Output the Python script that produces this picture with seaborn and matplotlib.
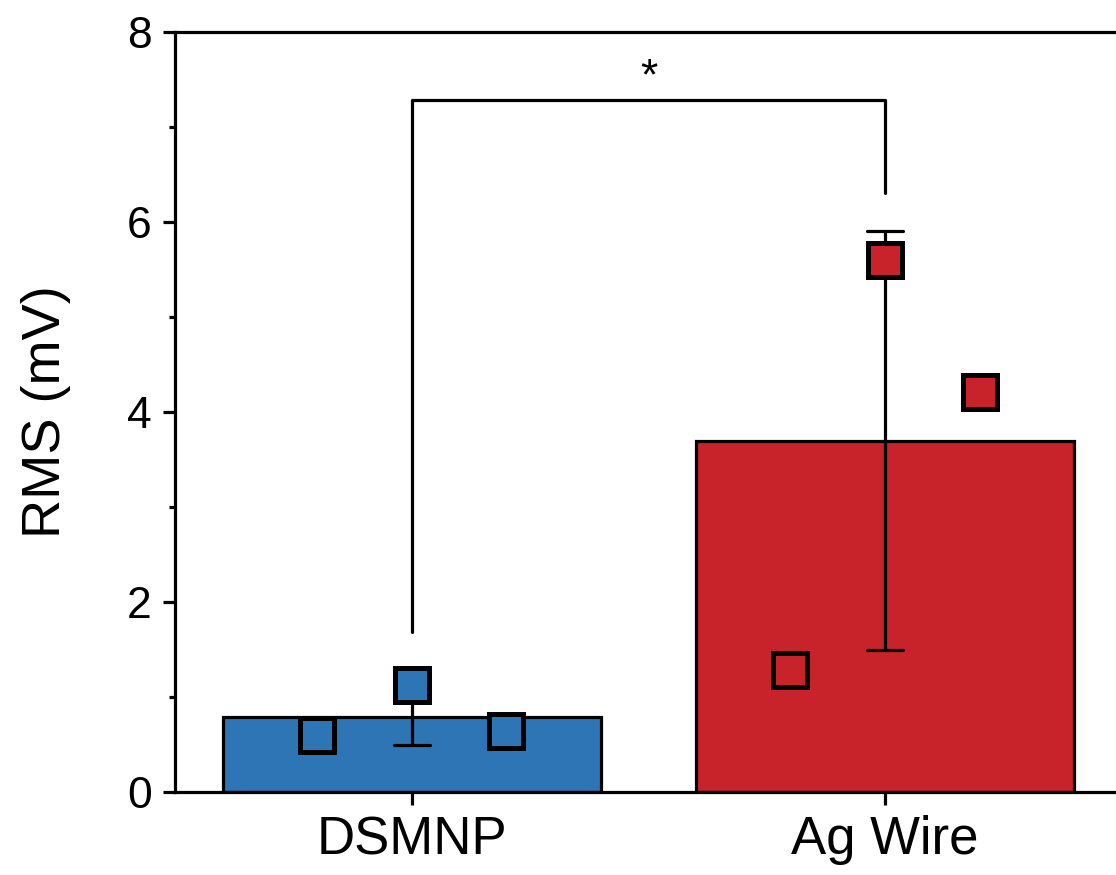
import numpy as np
import pandas as pd
import matplotlib
matplotlib.use("Agg")
import matplotlib.pyplot as plt
import seaborn as sns
from matplotlib.ticker import MultipleLocator

# data
groups = ["DSMNP", "Ag Wire"]
dsmnp_vals = [0.60, 1.13, 0.64]
agwire_vals = [1.28, 5.60, 4.21]
bar_colors = ["#2E75B6", "#C8232A"]
jitter = [-0.2, 0.0, 0.2]
bracket_y = [1.68, 7.28, 7.28, 6.31]

df = pd.DataFrame({
    "group": ["DSMNP"] * len(dsmnp_vals) + ["Ag Wire"] * len(agwire_vals),
    "rms": dsmnp_vals + agwire_vals,
})

sns.set_theme(style="white")
plt.rcParams['font.family'] = ['Liberation Sans', 'DejaVu Sans']
plt.rcParams['text.color'] = 'black'
plt.rcParams['axes.labelcolor'] = 'black'
plt.rcParams['xtick.color'] = 'black'
plt.rcParams['ytick.color'] = 'black'

fig = plt.figure(figsize=(11.16, 8.75), dpi=100)
ax = fig.add_axes([0.157, 0.095, 0.848, 0.8684])

sns.barplot(data=df, x="group", y="rms", order=groups, hue="group",
            palette=bar_colors, saturation=1, legend=False, errorbar="sd",
            capsize=0.075, width=0.8, edgecolor="black", linewidth=2.3,
            err_kws={"color": "black", "linewidth": 2.3}, ax=ax)

# individual points
for i, vals in enumerate([dsmnp_vals, agwire_vals]):
    xs = [i + j for j in jitter]
    ax.plot(xs, vals, linestyle="none", marker="s", markersize=24,
            markerfacecolor=bar_colors[i], markeredgecolor="black",
            markeredgewidth=3.6, zorder=6)

# significance bracket
ax.plot([0, 0, 1, 1], bracket_y, color="black", linewidth=2.3, zorder=6)
ax.text(0.5, 7.52, "*", ha="center", va="center", fontsize=32, color="black")

ax.set_xlim(-0.5, 1.5)
ax.set_ylim(0, 8)
ax.yaxis.set_major_locator(MultipleLocator(2))
ax.yaxis.set_minor_locator(MultipleLocator(1))

for side in ["left", "bottom", "top"]:
    ax.spines[side].set_linewidth(2.3)
    ax.spines[side].set_color("black")
ax.spines["right"].set_visible(False)

ax.tick_params(axis="y", which="major", direction="out", length=9, width=2.3,
               labelsize=32, pad=8, left=True)
ax.tick_params(axis="y", which="minor", direction="out", length=4.5, width=2.3, left=True)
ax.tick_params(axis="x", which="major", direction="out", length=9, width=2.3,
               labelsize=38, pad=8, bottom=True)

ax.set_xlabel("")
ax.set_ylabel("RMS (mV)", fontsize=39, labelpad=40)

plt.savefig("out.png", dpi=100)
